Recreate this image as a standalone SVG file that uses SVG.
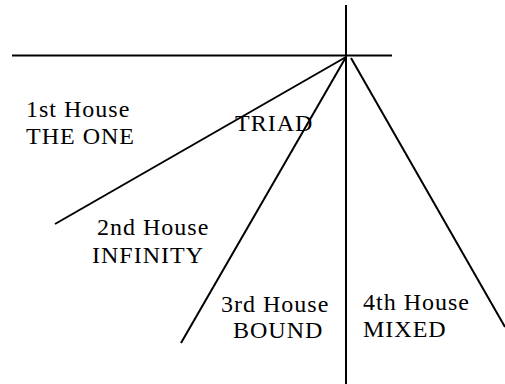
<svg xmlns="http://www.w3.org/2000/svg" width="505" height="384" viewBox="0 0 505 384">
<style>
.l{stroke:#000;stroke-width:2;fill:none}
text{font-family:'Liberation Serif',serif;font-size:24px;fill:#000;letter-spacing:1px}
</style>
<rect width="505" height="384" fill="#fff"/>
<g id="connectors">
<line class="l" x1="346" y1="5" x2="346" y2="384"/>
<line class="l" x1="12" y1="55.5" x2="392" y2="55.5"/>
<line class="l" x1="346" y1="57" x2="55" y2="224"/>
<line class="l" x1="346" y1="57" x2="181" y2="343"/>
<line class="l" x1="351" y1="58" x2="505" y2="327"/>
</g>
<g id="house1"><text x="26" y="117">1st House</text><text x="26" y="144">THE ONE</text></g>
<g id="triad"><text x="235" y="131">TRIAD</text></g>
<g id="house2"><text x="97" y="235">2nd House</text><text x="92" y="263">INFINITY</text></g>
<g id="house3"><text x="221" y="312">3rd House</text><text x="233" y="338">BOUND</text></g>
<g id="house4"><text x="363" y="310">4th House</text><text x="363" y="337">MIXED</text></g>
</svg>
